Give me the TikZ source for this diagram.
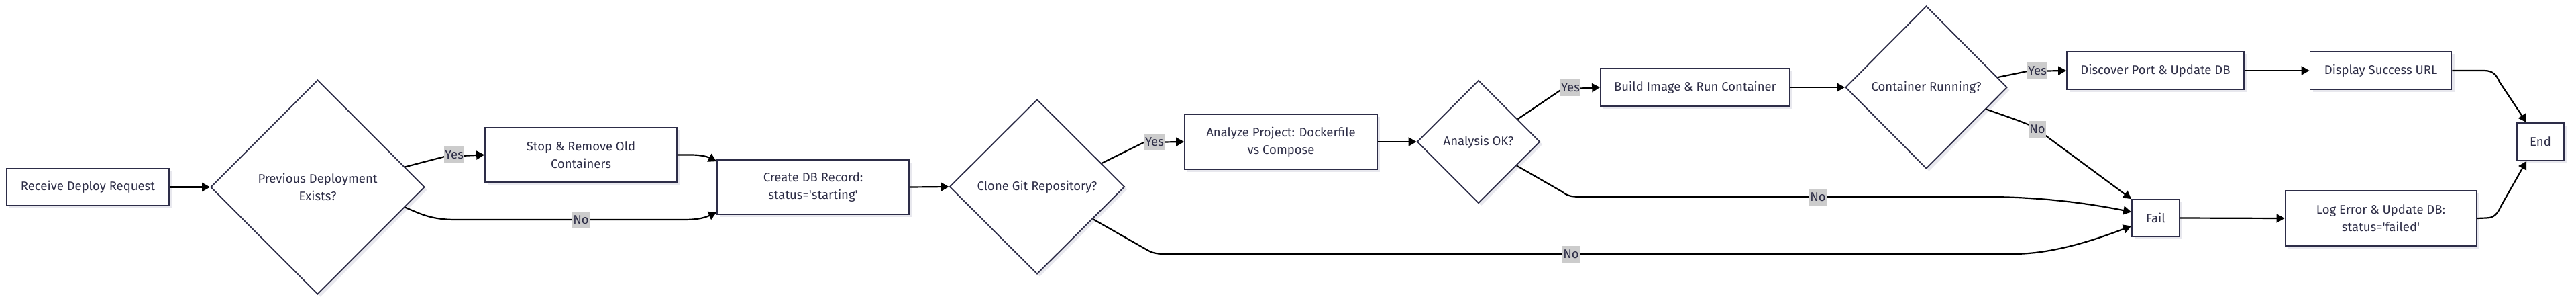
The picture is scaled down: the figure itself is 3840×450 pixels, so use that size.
\documentclass[tikz,border=0pt]{standalone}
\usepackage{fontspec}
\setmainfont{Fira Sans}
\usetikzlibrary{shapes.geometric,arrows.meta,shadows}
\definecolor{bordc}{RGB}{45,45,72}
\definecolor{txtc}{RGB}{45,45,70}
\definecolor{lblbg}{RGB}{204,204,204}
\definecolor{shadc}{RGB}{232,232,238}
\newcommand{\sq}{\textquotesingle}
\tikzset{
  base/.style={draw=bordc, line width=1.8pt, fill=white, text=txtc,
    font=\fontsize{18.5}{26}\selectfont, align=center, inner sep=0pt,
    drop shadow={shadow xshift=4pt, shadow yshift=-4pt, fill=shadc, opacity=1}},
  box/.style={base, rectangle},
  dia/.style={base, diamond},
  arr/.style={line width=2.2pt, draw=black, -{Triangle[length=12pt,width=13pt]}},
  lbl/.style={fill=lblbg, text=txtc, font=\fontsize{18.5}{26}\selectfont,
    inner xsep=1pt, inner ysep=0pt, minimum height=25pt},
}
\begin{document}
\begin{tikzpicture}[x=1pt,y=-1pt]
\fill[white] (0,0) rectangle (3840,450);
\useasboundingbox (0,0) rectangle (3840,450);

% nodes
\node[box, minimum width=242pt, minimum height=55pt] (recv) at (131,278.5) {Receive Deploy Request};
\node[dia, minimum width=319pt, minimum height=319pt] (prev) at (473.5,278.5) {Previous Deployment\\Exists?};
\node[box, minimum width=286pt, minimum height=81pt] (stop) at (866,230.5) {Stop \& Remove Old\\Containers};
\node[box, minimum width=286pt, minimum height=81pt] (create) at (1212,278.5) {Create DB Record:\\status=\sq{}starting\sq};
\node[dia, minimum width=261pt, minimum height=260pt] (clone) at (1546,278) {Clone Git Repository?};
\node[box, minimum width=287pt, minimum height=82pt] (analyze) at (1909.5,211) {Analyze Project: Dockerfile\\vs Compose};
\node[dia, minimum width=183pt, minimum height=183pt] (aok) at (2204,211) {Analysis OK?};
\node[box, minimum width=282pt, minimum height=56pt] (build) at (2527,130) {Build Image \& Run Container};
\node[dia, minimum width=241pt, minimum height=242pt] (crun) at (2871.5,130) {Container Running?};
\node[box, minimum width=264pt, minimum height=56pt] (disc) at (3213,105) {Discover Port \& Update DB};
\node[box, minimum width=211pt, minimum height=56pt] (disp) at (3549,105) {Display Success URL};
\node[box, minimum width=70pt, minimum height=56pt] (endn) at (3787,211) {End};
\node[box, minimum width=71pt, minimum height=55pt] (fail) at (3213.5,324.5) {Fail};
\node[box, minimum width=285pt, minimum height=82pt] (log) at (3549,325) {Log Error \& Update DB:\\status=\sq{}failed\sq};

% edges
\draw[arr] (recv.east) -- (prev.west);
\draw[arr] (prev.13.3) -- (663,233) -- (stop.west);
\draw[arr] (prev.-13.3) .. controls (630,320) and (645,327) .. (680,327) -- (1020,327)
  .. controls (1045,327) and (1055,322) .. ([yshift=4pt]create.south west);
\draw[arr] (stop.east) -- (1030,230.5) .. controls (1050,230.5) and (1058,235) .. ([yshift=-3pt]create.north west);
\draw[arr] (create.east) -- (clone.west);
\draw[arr] (clone.20) -- (1705,212) -- (analyze.west);
\draw[arr] (clone.-30) -- (1710,372) .. controls (1720,378) and (1728,378) .. (1745,378) -- (3000,378)
  .. controls (3060,378) and (3120,358) .. ([yshift=-12pt]fail.west);
\draw[arr] (analyze.east) -- (aok.west);
\draw[arr] (aok.30) -- (2328,133) -- (build.west);
\draw[arr] (aok.-32) -- (2328,285) .. controls (2338,293) and (2345,293) .. (2365,293) -- (2960,293)
  .. controls (3040,293) and (3110,302) .. ([yshift=9pt]fail.west);
\draw[arr] (build.east) -- (crun.west);
\draw[arr] (crun.8.6) -- (3022,106) -- (disc.west);
\draw[arr] (crun.-20.7) .. controls (2990,173) and (3012,180) .. (3032,189) -- (fail.north west);
\draw[arr] (disc.east) -- (disp.west);
\draw[arr] (disp.east) -- (3703,105) .. controls (3716,105) and (3721,111) .. (3726,122) -- ([xshift=-21pt]endn.north);
\draw[arr] (fail.east) -- (log.west);
\draw[arr] (log.east) -- (3706,324.5) .. controls (3718,324.5) and (3723,318) .. (3728,307) -- ([xshift=-21pt]endn.south);

% labels
\node[lbl] (l1) at (677,230.5) {Yes};
\node[lbl] (l2) at (866,327) {No};
\node[lbl] (l3) at (1721,211) {Yes};
\node[lbl] (l4) at (2342,378) {No};
\node[lbl] (l5) at (2341,130) {Yes};
\node[lbl] (l6) at (2710,293) {No};
\node[lbl] (l7) at (3037,105) {Yes};
\node[lbl] (l8) at (3037,192) {No};
\end{tikzpicture}
\end{document}
